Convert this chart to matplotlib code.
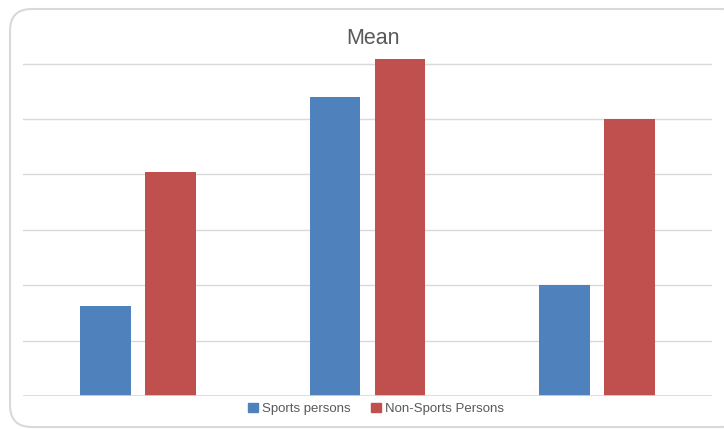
import matplotlib
matplotlib.use("Agg")
import matplotlib.pyplot as plt
import numpy as np
from matplotlib.patches import FancyBboxPatch, Patch

categories = ["Group 1", "Group 2", "Group 3"]
sports = [1.62, 5.40, 2.00]
non_sports = [4.04, 6.08, 5.00]
series_names = ["Sports persons", "Non-Sports Persons"]

W, H = 724, 429
fig = plt.figure(figsize=(W / 100, H / 100), dpi=100)

# chart border
border = FancyBboxPatch((10 / W, 2 / H), (W + 20 - 10) / W, 418 / H,
                        boxstyle="round,pad=0,rounding_size=0.03",
                        transform=fig.transFigure, facecolor="white",
                        edgecolor="#d9d9d9", linewidth=1.5, zorder=-10,
                        mutation_aspect=W / H)
fig.add_artist(border)

ax = fig.add_axes([23 / W, 33 / H, 689 / W, (396 - 44) / H])
ax.set_facecolor("none")
x = np.arange(len(categories))
bw = 0.222
off = 0.1415
ax.bar(x - off, sports, bw, color="#4F81BD", zorder=3)
ax.bar(x + off, non_sports, bw, color="#C0504D", zorder=3)
ax.set_xlim(-0.5, 2.5)
ax.set_ylim(0, (396 - 44) / 55.4)
ax.set_yticks(range(0, 7))
ax.yaxis.grid(True, color="#d9d9d9", linewidth=1, zorder=0)
ax.set_axisbelow(True)
ax.tick_params(left=False, bottom=False, labelleft=False, labelbottom=False)
for s in ax.spines.values():
    s.set_visible(False)
ax.axhline(0, color="#d9d9d9", linewidth=1.2, zorder=4)

fig.text(373 / W, 1 - 38 / H, "Mean", ha="center", va="center",
         fontsize=15.5, color="#595959", family="Liberation Sans")

handles = [Patch(color="#4F81BD"), Patch(color="#C0504D")]
fig.legend(handles, series_names, loc="center", bbox_to_anchor=(376 / W, 1 - 409 / H),
           ncol=2, frameon=False, prop={"family": "Liberation Sans", "size": 9.5},
           handlelength=0.7, handleheight=0.7, handletextpad=0.3, columnspacing=1.6,
           labelcolor="#595959")

fig.savefig("out.png", dpi=100)
